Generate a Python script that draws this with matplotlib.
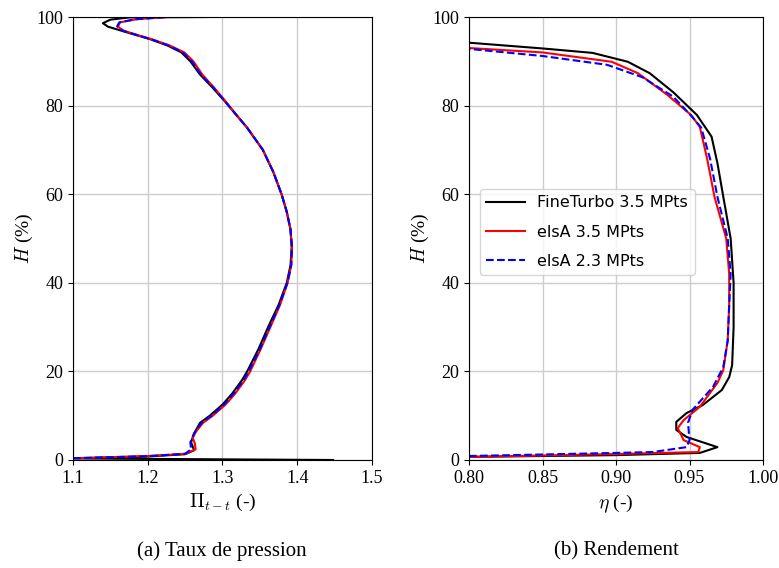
import matplotlib
matplotlib.use("Agg")
import matplotlib.pyplot as plt

plt.rcParams["font.family"] = "Liberation Serif"
plt.rcParams["mathtext.fontset"] = "cm"

# ── Data: (a) pressure ratio vs height ─────────────────
pi_ft = [1.448, 1.10, 1.20, 1.25, 1.262, 1.258, 1.262, 1.270, 1.283, 1.300, 1.313, 1.326,
         1.333, 1.348, 1.361, 1.375, 1.386, 1.391, 1.3925, 1.391, 1.386, 1.379, 1.368,
         1.354, 1.333, 1.318, 1.303, 1.287, 1.270, 1.257, 1.245, 1.226, 1.203, 1.183,
         1.163, 1.147, 1.140, 1.150, 1.175, 1.279]
h_pi_ft = [0.0, 0.35, 0.8, 1.3, 2.2, 4.0, 6.0, 8.4, 10.0, 12.5, 15.0, 18.0,
           20.0, 25.0, 30.0, 35.0, 40.0, 44.0, 48.0, 52.0, 56.0, 60.0, 65.0,
           70.0, 75.0, 78.0, 81.0, 84.0, 87.0, 90.0, 92.0, 93.6, 95.0, 96.0,
           97.0, 97.8, 98.6, 99.4, 99.9, 100]

pi_e35 = [1.10, 1.20, 1.25, 1.264, 1.263, 1.260, 1.265, 1.274, 1.287, 1.304, 1.317, 1.330,
          1.337, 1.351, 1.364, 1.377, 1.387, 1.392, 1.393, 1.391, 1.386, 1.379, 1.368,
          1.354, 1.333, 1.318, 1.304, 1.289, 1.273, 1.261, 1.249, 1.229, 1.205, 1.185,
          1.168, 1.160, 1.163, 1.185, 1.226]
h_pi_e35 = [0.4, 0.9, 1.4, 2.4, 3.8, 5.0, 6.5, 8.4, 10.0, 12.5, 15.0, 18.0,
            20.0, 25.0, 30.0, 35.0, 40.0, 44.0, 48.0, 52.0, 56.0, 60.0, 65.0,
            70.0, 75.0, 78.0, 81.0, 84.0, 87.0, 90.0, 92.0, 93.6, 95.0, 96.0,
            96.9, 97.8, 98.8, 99.5, 100]

pi_e23 = [1.10, 1.20, 1.25, 1.258, 1.257, 1.262, 1.272, 1.285, 1.302, 1.315, 1.328,
          1.335, 1.350, 1.363, 1.376, 1.387, 1.392, 1.393, 1.391, 1.386, 1.379, 1.368,
          1.354, 1.333, 1.318, 1.303, 1.288, 1.271, 1.259, 1.247, 1.227, 1.204, 1.184,
          1.166, 1.159, 1.162, 1.184, 1.226]
h_pi_e23 = [0.4, 0.85, 1.4, 2.4, 4.0, 6.0, 8.4, 10.0, 12.5, 15.0, 18.0,
            20.0, 25.0, 30.0, 35.0, 40.0, 44.0, 48.0, 52.0, 56.0, 60.0, 65.0,
            70.0, 75.0, 78.0, 81.0, 84.0, 87.0, 90.0, 92.0, 93.6, 95.0, 96.0,
            96.9, 97.9, 98.8, 99.5, 100]

# ── Data: (b) efficiency vs height ─────────────────────
eta_ft = [0.80, 0.90, 0.957, 0.969, 0.948, 0.941, 0.941, 0.948, 0.959, 0.972, 0.977, 0.979,
          0.980, 0.980, 0.978, 0.973, 0.969, 0.965, 0.955, 0.939, 0.923, 0.908, 0.884,
          0.850, 0.80]
h_eta_ft = [0.7, 1.1, 1.6, 2.9, 5.2, 6.8, 8.6, 10.6, 12.4, 15.8, 18.7, 21.4,
            30, 40, 50, 59.4, 67, 73, 77.9, 83, 87.3, 89.9, 91.9,
            92.9, 94.2]

eta_e35 = [0.80, 0.90, 0.956, 0.957, 0.946, 0.942, 0.946, 0.957, 0.969, 0.973, 0.976, 0.977,
           0.977, 0.975, 0.967, 0.962, 0.957, 0.951, 0.935, 0.915, 0.897, 0.850, 0.80]
h_eta_e35 = [0.7, 1.35, 1.8, 2.9, 4.5, 7.2, 9.0, 12.0, 17.4, 20.3, 27, 35,
             42, 50, 59.4, 68, 75.2, 77.9, 82.4, 87.3, 89.9, 92.0, 93.0]

eta_e23 = [0.80, 0.90, 0.925, 0.948, 0.950, 0.949, 0.952, 0.966, 0.973, 0.976, 0.977, 0.978,
           0.976, 0.969, 0.964, 0.958, 0.952, 0.939, 0.918, 0.894, 0.850, 0.80]
h_eta_e23 = [0.9, 1.6, 1.8, 2.9, 4.5, 8.4, 11.3, 16.5, 21, 27, 35, 42,
             50, 59.4, 68, 75, 77.4, 82, 86.4, 89.2, 91.2, 92.8]

labels = ["FineTurbo 3.5 MPts", "elsA 3.5 MPts", "elsA 2.3 MPts"]

# ── Plot ───────────────────────────────────────────────
fig = plt.figure(figsize=(7.79, 5.68), dpi=100)
ax1 = fig.add_axes([73 / 779, 1 - 460 / 568, 299 / 779, 443 / 568])
ax2 = fig.add_axes([469 / 779, 1 - 460 / 568, 294 / 779, 443 / 568])

ax1.plot(pi_ft, h_pi_ft, color="black", lw=1.5, label=labels[0])
ax1.plot(pi_e35, h_pi_e35, color="red", lw=1.5, label=labels[1])
ax1.plot(pi_e23, h_pi_e23, color="blue", lw=1.5, ls="--", label=labels[2])

ax2.plot(eta_ft, h_eta_ft, color="black", lw=1.5, label=labels[0])
ax2.plot(eta_e35, h_eta_e35, color="red", lw=1.5, label=labels[1])
ax2.plot(eta_e23, h_eta_e23, color="blue", lw=1.5, ls="--", label=labels[2])

ax1.set_xlim(1.1, 1.5)
ax1.set_xticks([1.1, 1.2, 1.3, 1.4, 1.5])
ax2.set_xlim(0.8, 1.0)
ax2.set_xticks([0.80, 0.85, 0.90, 0.95, 1.00])

for ax in (ax1, ax2):
    ax.set_ylim(0, 100)
    ax.set_yticks([0, 20, 40, 60, 80, 100])
    ax.grid(True, color="#cccccc", lw=1.0)
    ax.tick_params(labelsize=13)
    ax.set_ylabel(r"$H$ (%)", fontsize=14, labelpad=1)

ax1.set_xlabel(r"$\Pi_{t-t}$ (-)", fontsize=14)
ax2.set_xlabel(r"$\eta$ (-)", fontsize=14)

ax2.legend(loc="upper left", bbox_to_anchor=(0.01, 0.63),
           prop={"family": "DejaVu Sans", "size": 11.5},
           handlelength=2.4, labelspacing=0.9, framealpha=0.8)

fig.text(222 / 779, 1 - 551 / 568, "(a) Taux de pression", ha="center", va="center", fontsize=15)
fig.text(616 / 779, 1 - 551 / 568, "(b) Rendement", ha="center", va="center", fontsize=15)

plt.savefig("out.png", dpi=100)
plt.close()
